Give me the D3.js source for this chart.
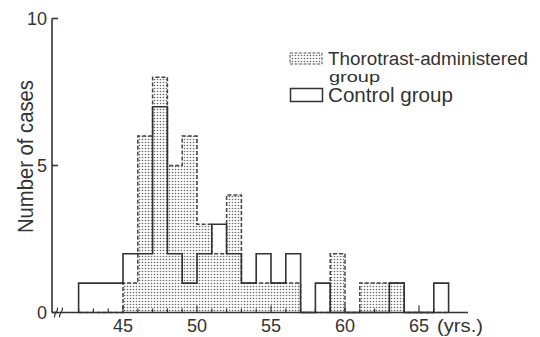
<!DOCTYPE html>
<html>
<head>
<meta charset="utf-8">
<script src="https://cdn.jsdelivr.net/npm/d3@7"></script>
<style>
  html, body { margin: 0; padding: 0; background: #fff; }
  svg { display: block; }
  text { font-family: "Liberation Sans Narrow", "Liberation Sans", Arial, sans-serif; fill: #333; }
</style>
</head>
<body>
<svg id="chart" width="540" height="337"></svg>
<script>
// Age bins (start year of each one-year bin)
const binStarts = [42, 43, 44, 45, 46, 47, 48, 49, 50, 51, 52, 53, 54, 55, 56, 57, 58, 59, 60, 61, 62, 63, 64, 65, 66];
// Number of cases per bin
const thorotrastCases = [0, 0, 0, 1, 6, 8, 5, 6, 3, 2, 4, 1, 1, 1, 1, 0, 0, 2, 0, 1, 1, 1, 0, 0, 0];
const controlCases    = [1, 1, 1, 2, 2, 7, 2, 1, 2, 3, 2, 1, 2, 1, 2, 0, 1, 0, 0, 0, 0, 1, 0, 0, 1];
// Axis ticks
const xTickLabels = [45, 50, 55, 60, 65];
const xMinorTicks = [42, 43, 44, 45, 46, 47, 48, 49, 50, 51, 52, 53, 54, 55, 56, 57, 58, 59, 60, 61, 62, 63, 64, 65, 66];
const yTickLabels = [0, 5, 10];
const legendLabels = ["Thorotrast-administered", "group", "Control group"];

const svg = d3.select("#chart");
const ink = "#333";

const x = d3.scaleLinear().domain([45, 65]).range([123, 419]);
const y = d3.scaleLinear().domain([0, 10]).range([312.5, 18.5]);
const axisLeftX = 52, axisRightX = 468;

// stipple pattern for the Thorotrast group
const defs = svg.append("defs");
const pat = defs.append("pattern")
  .attr("id", "stipple").attr("patternUnits", "userSpaceOnUse")
  .attr("width", 3).attr("height", 3);
pat.append("rect").attr("width", 3).attr("height", 3).attr("fill", "#fff");
pat.append("circle").attr("cx", 1.5).attr("cy", 1.5).attr("r", 0.8).attr("fill", "#666");

const bins = binStarts.map((s, i) => ({ start: s, t: thorotrastCases[i], c: controlCases[i] }));

// Thorotrast filled bars
svg.append("g").selectAll("rect")
  .data(bins.filter(d => d.t > 0))
  .join("rect")
  .attr("x", d => x(d.start))
  .attr("y", d => y(d.t))
  .attr("width", d => x(d.start + 1) - x(d.start))
  .attr("height", d => y(0) - y(d.t))
  .attr("fill", "url(#stipple)");

// step outline helper
function stepPoints(key) {
  const pts = [[binStarts[0], 0]];
  bins.forEach(d => pts.push([d.start, d[key]]));
  pts.push([binStarts[binStarts.length - 1] + 1, 0]);
  return pts;
}
const step = d3.line().x(d => x(d[0])).y(d => y(d[1])).curve(d3.curveStepAfter);

// Thorotrast outline (dashed)
svg.append("path")
  .attr("d", step(stepPoints("t")))
  .attr("fill", "none").attr("stroke", "#444")
  .attr("stroke-width", 1.5).attr("stroke-dasharray", "4,2");

// Control outline (solid)
svg.append("path")
  .attr("d", step(stepPoints("c")))
  .attr("fill", "none").attr("stroke", ink)
  .attr("stroke-width", 1.6);

// Axes
const axes = svg.append("g").attr("stroke", ink).attr("stroke-width", 1.6).attr("fill", "none");
axes.append("line").attr("x1", axisLeftX).attr("x2", axisLeftX).attr("y1", y(10)).attr("y2", y(0));
axes.append("line").attr("x1", axisLeftX).attr("x2", axisRightX).attr("y1", y(0)).attr("y2", y(0));
// y ticks (inward)
axes.selectAll("line.yt").data(yTickLabels).join("line").attr("class", "yt")
  .attr("x1", axisLeftX).attr("x2", axisLeftX + 6)
  .attr("y1", d => y(d)).attr("y2", d => y(d));
// x ticks (upward)
axes.selectAll("line.xt").data(xMinorTicks).join("line").attr("class", "xt")
  .attr("stroke-width", 1.2)
  .attr("x1", d => x(d)).attr("x2", d => x(d))
  .attr("y1", y(0)).attr("y2", d => y(0) - (xTickLabels.includes(d) ? 7 : 4));
// axis break marks
[56, 61].forEach(bx => {
  axes.append("path")
    .attr("stroke-width", 1.2)
    .attr("d", `M${bx - 1.5},${y(0) + 5} C${bx - 2.5},${y(0) + 1} ${bx + 2.5},${y(0) - 1} ${bx + 1.5},${y(0) - 5}`);
});

// y tick labels
svg.append("g").selectAll("text").data(yTickLabels).join("text")
  .attr("x", 47).attr("y", d => y(d) + 6.5)
  .attr("text-anchor", "end").attr("font-size", 18)
  .text(d => d);

// x tick labels
svg.append("g").selectAll("text").data(xTickLabels).join("text")
  .attr("x", d => x(d)).attr("y", 332)
  .attr("text-anchor", "middle").attr("font-size", 18)
  .text(d => d);
svg.append("text").attr("x", 437).attr("y", 332).attr("font-size", 18)
  .attr("textLength", 46).attr("lengthAdjust", "spacingAndGlyphs")
  .text("(yrs.)");

// y-axis title
svg.append("text")
  .attr("transform", "translate(33,156.5) rotate(-90)")
  .attr("text-anchor", "middle").attr("font-size", 22)
  .attr("textLength", 153).attr("lengthAdjust", "spacingAndGlyphs")
  .text("Number of cases");

// Legend
const lg = svg.append("g");
lg.append("rect").attr("x", 290).attr("y", 53).attr("width", 32).attr("height", 11)
  .attr("fill", "url(#stipple)").attr("stroke", "#555").attr("stroke-width", 1).attr("stroke-dasharray", "3,1.5");
lg.append("rect").attr("x", 290.5).attr("y", 88.5).attr("width", 32).attr("height", 13)
  .attr("fill", "#fff").attr("stroke", ink).attr("stroke-width", 1.5);
lg.append("text").attr("x", 328).attr("y", 65).attr("font-size", 18)
  .attr("textLength", 200).attr("lengthAdjust", "spacingAndGlyphs").text(legendLabels[0]);
lg.append("text").attr("x", 329).attr("y", 82).attr("font-size", 14)
  .attr("textLength", 51).attr("lengthAdjust", "spacingAndGlyphs").text(legendLabels[1]);
lg.append("text").attr("x", 328).attr("y", 101.5).attr("font-size", 20)
  .attr("textLength", 125).attr("lengthAdjust", "spacingAndGlyphs").text(legendLabels[2]);
</script>
</body>
</html>
